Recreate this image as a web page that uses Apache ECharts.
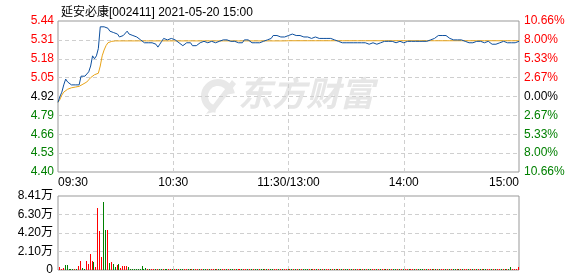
<!DOCTYPE html>
<html><head><meta charset="utf-8">
<script src="https://cdn.jsdelivr.net/npm/echarts@6/dist/echarts.min.js"></script>
<style>html,body{margin:0;padding:0;background:#fff}#c{width:578px;height:276px}</style>
</head><body><div id="c"></div>
<script>
const titleText = '延安必康[002411] 2021-05-20 15:00';
const prevClose = 4.92;
const timeLabels = ['09:30', '10:30', '11:30/13:00', '14:00', '15:00'];
const priceLabels = ['4.40', '4.53', '4.66', '4.79', '4.92', '5.05', '5.18', '5.31', '5.44'];
const pctLabels = ['10.66%', '8.00%', '5.33%', '2.67%', '0.00%', '2.67%', '5.33%', '8.00%', '10.66%'];
const volLabels = ['0', '2.10万', '4.20万', '6.30万', '8.41万'];

// minute-by-minute price (241 points, 09:30..15:00)
const prices = [
 4.88,4.92,4.95,5.00,5.04,5.02,5.01,5.00,5.01,5.00,
 5.01,5.00,5.06,5.07,5.06,5.05,5.09,5.13,5.20,5.18,
 5.20,5.25,5.40,5.40,5.40,5.39,5.39,5.37,5.38,5.36,
 5.35,5.35,5.33,5.32,5.34,5.34,5.37,5.35,5.34,5.34,
 5.33,5.33,5.32,5.31,5.30,5.29,5.30,5.29,5.30,5.29,
 5.28,5.28,5.26,5.28,5.30,5.32,5.31,5.31,5.32,5.32,
 5.32,5.31,5.30,5.29,5.28,5.27,5.28,5.29,5.28,5.29,
 5.27,5.27,5.27,5.27,5.29,5.30,5.30,5.30,5.29,5.30,
 5.30,5.29,5.29,5.30,5.30,5.31,5.31,5.31,5.31,5.31,
 5.30,5.30,5.30,5.30,5.29,5.29,5.29,5.31,5.31,5.31,
 5.31,5.29,5.29,5.29,5.29,5.29,5.28,5.30,5.31,5.31,
 5.31,5.32,5.34,5.35,5.34,5.33,5.33,5.32,5.33,5.34,
 5.34,5.34,5.35,5.34,5.34,5.35,5.34,5.34,5.33,5.34,
 5.33,5.33,5.32,5.33,5.33,5.32,5.32,5.32,5.32,5.32,
 5.32,5.32,5.32,5.31,5.31,5.31,5.30,5.30,5.29,5.30,
 5.29,5.29,5.29,5.28,5.29,5.28,5.29,5.28,5.29,5.28,
 5.29,5.29,5.28,5.29,5.29,5.29,5.28,5.29,5.29,5.30,
 5.30,5.30,5.30,5.30,5.30,5.30,5.29,5.30,5.30,5.30,
 5.29,5.30,5.30,5.30,5.30,5.30,5.30,5.31,5.30,5.30,
 5.30,5.31,5.30,5.31,5.31,5.31,5.32,5.33,5.34,5.34,
 5.34,5.34,5.34,5.33,5.32,5.31,5.31,5.31,5.31,5.31,
 5.31,5.31,5.30,5.29,5.29,5.29,5.29,5.29,5.30,5.30,
 5.30,5.29,5.29,5.29,5.30,5.29,5.28,5.28,5.28,5.28,
 5.29,5.30,5.30,5.30,5.29,5.29,5.29,5.29,5.29,5.30,
 5.30
];

// average price line (241 points)
const avgPrices = [
 4.88,4.90,4.93,4.95,4.96,4.97,4.975,4.98,4.98,4.985,
 4.985,4.99,5.00,5.005,5.01,5.02,5.035,5.05,5.06,5.07,
 5.075,5.08,5.13,5.20,5.24,5.27,5.29,5.295,5.30,5.303,
 5.303,5.303,5.303,5.303,5.303,5.303,5.303,5.303,5.303,5.303,
 5.303,5.303,5.303,5.303,5.303,5.303,5.303,5.303,5.303,5.303,
 5.303,5.303,5.303,5.303,5.303,5.303,5.303,5.303,5.303,5.303,
 5.303,5.303,5.303,5.303,5.303,5.303,5.303,5.303,5.303,5.303,
 5.303,5.303,5.303,5.303,5.303,5.303,5.303,5.303,5.303,5.303,
 5.303,5.303,5.303,5.303,5.303,5.303,5.303,5.303,5.303,5.303,
 5.303,5.303,5.303,5.303,5.303,5.303,5.303,5.303,5.303,5.303,
 5.303,5.303,5.303,5.303,5.303,5.303,5.303,5.303,5.303,5.303,
 5.303,5.303,5.303,5.303,5.303,5.303,5.303,5.303,5.303,5.304,
 5.304,5.304,5.304,5.304,5.304,5.304,5.304,5.304,5.304,5.304,
 5.304,5.304,5.304,5.304,5.304,5.304,5.304,5.304,5.304,5.304,
 5.304,5.304,5.304,5.304,5.304,5.304,5.304,5.304,5.304,5.304,
 5.304,5.304,5.304,5.304,5.304,5.304,5.304,5.304,5.304,5.304,
 5.304,5.304,5.304,5.304,5.304,5.304,5.304,5.304,5.304,5.304,
 5.304,5.304,5.304,5.304,5.304,5.304,5.304,5.304,5.304,5.304,
 5.304,5.304,5.304,5.304,5.304,5.304,5.304,5.304,5.304,5.304,
 5.304,5.304,5.304,5.304,5.304,5.304,5.304,5.304,5.304,5.304,
 5.304,5.304,5.304,5.304,5.304,5.304,5.304,5.304,5.304,5.304,
 5.304,5.304,5.304,5.304,5.304,5.304,5.304,5.304,5.304,5.304,
 5.304,5.304,5.304,5.304,5.304,5.304,5.304,5.304,5.304,5.304,
 5.304,5.304,5.304,5.304,5.304,5.304,5.304,5.304,5.304,5.304,
 5.304
];

// volume per minute (shares)
const volOpen = [
 0,3800,1100,2700,5700,5700,1100,1100,1100,1100,
 1100,4900,10200,2700,1100,10200,6800,18200,10200,8700,
 3800,70800,44300,14800,77700,45800,45800,8000,9100,6400,
 3400,5700,7200,2700,4500,4500,4500,3400,1100,1100,
 1100,1100,1100,1100,4500,1100,2000
];
const volMid = [
 1200,1400,1000,1300,1500,1100,1200,1000,1400,1300,
 1100,1200,1500,1000,1100,1400,1200,1100,1300,1200,
 1000,1100,1200,1400,1100,1000,1300,1200,1100,1500,
 1200,1100,1000,1300,1200,1100,1400,1200,1300,1100,
 1000,1200,1100,1300,1400,1100,1200,1000,1100,1300,
 1200,1400,1100,1000,1200,1300,1100,1200,1400,1100,
 1000,1300,1200,1100,1200,1400,1100,1300,1000,1200,
 1100,1200,1300,1100,1400,1200,1000,1100,1300,1200,
 1100,1400,1200,1000,1300,1100,1200,1400,1100,1200,
 1300,1100,1000,1200,1400,1100,1300,1200,1100,1000,
 1200,1300,1100,1400,1200,1100,1000,1300,1200,1100,
 1400,1200,1100,1300,1000,1200,1100,1400,1300,1100,
 1200,1000,1300,1100,1200,1400,1100,1200,1300,1100,
 1000,1200,1400,1100,1300,1200,1100,1000,1200,1400,
 1100,1300,1200,1100,1400,1000,1200,1300,1100,1200,
 1400,1100,1200,1300,1000,1100,1200,1400,1100,1300,
 1200,1100,1000,1300,1200,1400,1100,1200,1300,1100,
 1000,1200,1100,1400,1300,1100,1200,1500,1300,1200,
 1100,1300,1200,1400,1200,1500,1300,1600,1400
];
const volClose = [3000,1200,1000,1300,3000];
// r = up (red), g = down (green)
const volDir =
 'rrrrgggggrgrrggrrrrgrrrrggrgrggrgrrrrgggggggggg' +
 'rgrrgrggrggrrgrgrggrrggrgrrgrggrgrrgrggrrgrggrgrrg' +
 'rrgrgrggrggrgrggrrgrgrrgrgrgrgrgggrgrrgrgrgrrgrgrgrgrggrgr' +
 'grrgrgrggrrgrgrrgrgrggrgrgrrgrrgrgggrgrrgrgrgrrgrg' +
 'rggrgrgrrgrgrgrgrggrrgrgrrgrg' +
 'rggrr';

const volumes = volOpen.concat(volMid, volClose);

const RED = '#ff0000', GREEN = '#008000';
const chart = echarts.init(document.getElementById('c'), null, {renderer: 'canvas'});
const FONT = '"Liberation Sans", "Noto Sans CJK SC", sans-serif';

const priceData = prices.map((p, i) => [i, (p - prevClose) * 100]);
const avgData = avgPrices.map((p, i) => [i, (p - prevClose) * 100]);
const volData = volumes.map((v, i) => [i, v]);

function sideColor(v) {
  if (Math.abs(v) < 1e-6) return '#000';
  return v > 0 ? RED : GREEN;
}
const hSplit = ['transparent', '#cfcfcf', '#cfcfcf', '#cfcfcf', '#cfcfcf', '#cfcfcf', '#cfcfcf', '#cfcfcf', 'transparent'];
const vSplit = ['transparent', '#cfcfcf', '#cfcfcf', '#cfcfcf', 'transparent'];

chart.setOption({
  animation: false,
  textStyle: {fontFamily: FONT},
  title: {
    text: titleText, left: 56, top: 2,
    textStyle: {fontSize: 12, fontWeight: 'normal', color: '#000', fontFamily: FONT}
  },
  graphic: [
    {type: 'sector', z: -1, shape: {cx: 218, cy: 96, r: 17, r0: 10, startAngle: Math.PI * 0.55, endAngle: Math.PI * 1.95},
      style: {fill: '#e8e8e8'}},
    {type: 'polygon', z: -1, shape: {points: [[206, 114], [232, 80], [236, 84], [214, 112]]},
      style: {fill: '#e8e8e8'}},
    {type: 'text', left: 238, top: 76, z: -1,
      style: {text: '东方财富', fontSize: 34, fontWeight: 'bold', fontStyle: 'italic',
        fill: '#e6e6e6', fontFamily: '"Noto Sans CJK SC", sans-serif'}}
  ],
  grid: [
    {left: 58, right: 59, top: 21, height: 151, show: true, borderColor: '#999', borderWidth: 1, backgroundColor: 'transparent'},
    {left: 58, right: 59, top: 196, height: 74, show: true, borderColor: '#999', borderWidth: 1, backgroundColor: 'transparent'}
  ],
  xAxis: [
    {type: 'value', gridIndex: 0, min: 0, max: 240, interval: 60,
      axisLine: {show: false}, axisTick: {show: false},
      axisLabel: {fontSize: 12, color: '#000', margin: 5, fontFamily: FONT,
        alignMinLabel: 'left', alignMaxLabel: 'right',
        formatter: v => timeLabels[Math.round(v / 60)]},
      splitLine: {show: true, lineStyle: {color: vSplit, type: [4, 3], width: 1}}},
    {type: 'value', gridIndex: 1, min: 0, max: 240, interval: 60,
      axisLine: {show: false}, axisTick: {show: false}, axisLabel: {show: false},
      splitLine: {show: true, lineStyle: {color: vSplit, type: [4, 3], width: 1}}}
  ],
  yAxis: [
    {type: 'value', gridIndex: 0, min: -52, max: 52, interval: 13, position: 'left',
      axisLine: {show: false}, axisTick: {show: false},
      axisLabel: {fontSize: 12, margin: 4, fontFamily: FONT,
        formatter: v => priceLabels[Math.round((v + 52) / 13)],
        color: v => sideColor(v)},
      splitLine: {show: true, lineStyle: {color: hSplit, type: [4, 3], width: 1}}},
    {type: 'value', gridIndex: 0, min: -52, max: 52, interval: 13, position: 'right',
      axisLine: {show: false}, axisTick: {show: false},
      axisLabel: {fontSize: 12, margin: 5, fontFamily: FONT,
        formatter: v => pctLabels[8 - Math.round((v + 52) / 13)],
        color: v => sideColor(v)},
      splitLine: {show: false}},
    {type: 'value', gridIndex: 1, min: 0, max: 84100, interval: 21025, position: 'left',
      axisLine: {show: false}, axisTick: {show: false},
      axisLabel: {fontSize: 12, margin: 5, color: '#000', fontFamily: FONT,
        formatter: v => volLabels[Math.round(v / 21025)]},
      splitLine: {show: true, lineStyle: {color: ['transparent', '#cfcfcf', '#cfcfcf', '#cfcfcf', 'transparent'], type: [4, 3], width: 1}}}
  ],
  series: [
    {type: 'line', name: 'avg', xAxisIndex: 0, yAxisIndex: 0, data: avgData, showSymbol: false,
      lineStyle: {color: '#e8a317', width: 1}, z: 3},
    {type: 'line', name: 'price', xAxisIndex: 0, yAxisIndex: 0, data: priceData, showSymbol: false,
      lineStyle: {color: '#0d4f9e', width: 1}, z: 4},
    {type: 'custom', name: 'vol', xAxisIndex: 1, yAxisIndex: 2, data: volData, z: 3,
      encode: {x: 0, y: 1},
      renderItem: function (params, api) {
        const m = api.value(0), v = api.value(1);
        const top = api.coord([m, v]);
        const base = api.coord([m, 0]);
        const x = Math.round(top[0]) - 1;
        const y0 = Math.round(base[1]);
        const h = Math.max(y0 - Math.round(top[1]), v > 0 ? 1 : 0);
        const col = volDir.charAt(params.dataIndex) === 'g' ? GREEN : RED;
        return {
          type: 'rect',
          shape: {x: x, y: y0 - h, width: 1, height: h},
          style: {fill: col, stroke: 'none', lineWidth: 0, opacity: 1}
        };
      }}
  ]
});
</script></body></html>
